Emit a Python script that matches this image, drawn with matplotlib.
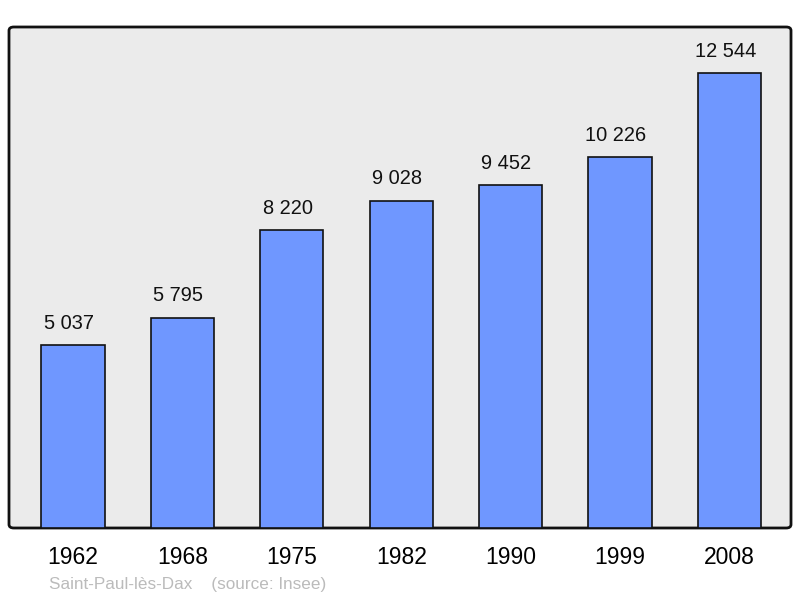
import matplotlib.pyplot as plt
from matplotlib.patches import FancyBboxPatch
import numpy as np

years = ['1962', '1968', '1975', '1982', '1990', '1999', '2008']
population = [5037, 5795, 8220, 9028, 9452, 10226, 12544]
value_labels = ['5 037', '5 795', '8 220', '9 028', '9 452', '10 226', '12 544']

plt.rcParams['font.family'] = ['Liberation Sans', 'DejaVu Sans']

fig = plt.figure(figsize=(8, 5.98), dpi=100)
ax = fig.add_axes([9/800, 70/598, 782/800, 501/598])
ax.set_facecolor('none')

# rounded background box, behind the axes
box = FancyBboxPatch((9/800, 70/598), 782/800, 501/598,
                     boxstyle='round,pad=0,rounding_size=0.006',
                     transform=fig.transFigure, facecolor='#ebebeb',
                     edgecolor='#111111', linewidth=2, zorder=-5)
fig.patches.append(box)

x = np.arange(len(years))
ax.bar(x, population, width=0.577, color='#6f97ff', edgecolor='#111111',
       linewidth=1.2, zorder=2)
for xi, v, lab in zip(x, population, value_labels):
    ax.text(xi - 0.037, v + 340, lab, ha='center', va='bottom', fontsize=14.4, color='#111111')

ax.set_xlim(-0.585, 6.563)
ax.set_ylim(0, 13813)
ax.set_xticks(x)
ax.set_xticklabels(years, fontsize=16.5)
ax.tick_params(axis='x', length=0, pad=13)
ax.set_yticks([])
for s in ax.spines.values():
    s.set_visible(False)

fig.text(49/800, 1 - 584/598, 'Saint-Paul-lès-Dax    (source: Insee)',
         fontsize=12.3, color='#bbbbbb', ha='left', va='center')

fig.savefig('out.png', dpi=100)
